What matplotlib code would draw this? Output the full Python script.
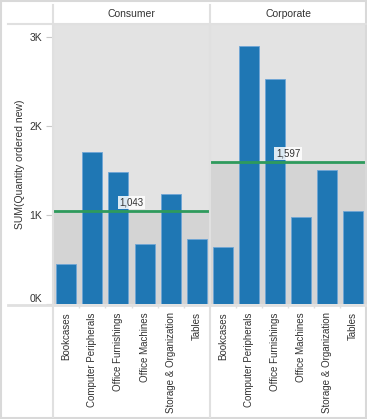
import matplotlib
matplotlib.use("Agg")
import matplotlib.pyplot as plt
from matplotlib.lines import Line2D
from matplotlib.patches import Rectangle

plt.rcParams['font.family'] = ['Liberation Sans', 'DejaVu Sans']

segments = ["Consumer", "Corporate"]
categories = ["Bookcases", "Computer Peripherals", "Office Furnishings",
              "Office Machines", "Storage & Organization", "Tables"]
consumer_qty = [446, 1711, 1487, 671, 1236, 727]
corporate_qty = [637, 2899, 2532, 974, 1506, 1048]
avg_labels = ["1,043", "1,597"]
y_ticks = [0, 1000, 2000, 3000]
y_ticklabels = ["0K", "1K", "2K", "3K"]

W, H = 367, 419
bar_col = "#1f77b4"
line_col = "#2e9a5c"
text_col = "#333333"
grid_col = "#e0e0e0"

fig = plt.figure(figsize=(W / 100, H / 100), dpi=100)
fig.patch.set_facecolor("white")


def fx(px):
    return px / W


def fy(py):
    return 1 - py / H


# frame lines
def hline(y, x0, x1, lw=1.5, c=grid_col):
    fig.add_artist(Line2D([fx(x0), fx(x1)], [fy(y), fy(y)], color=c, lw=lw,
                          transform=fig.transFigure))


def vline(x, y0, y1, lw=1.5, c=grid_col):
    fig.add_artist(Line2D([fx(x), fx(x)], [fy(y0), fy(y1)], color=c, lw=lw,
                          transform=fig.transFigure))


fig.add_artist(Rectangle((0.002, 0.002), 0.996, 0.996, fill=False, ec="#d9d9d9",
                         lw=1.5, transform=fig.transFigure))

top, bottom = 24, 304
ymax = (bottom - top) / 89 * 1000
panels = [(53, 210), (210, 366)]
data = [consumer_qty, corporate_qty]

for i, (x0, x1) in enumerate(panels):
    ax = fig.add_axes([fx(x0), fy(bottom), fx(x1 - x0), (bottom - top) / H])
    vals = data[i]
    avg = sum(vals) / len(vals)
    ax.set_facecolor("#e3e3e3")
    ax.axhspan(0, avg, color="#d4d4d4", zorder=0)
    xs = range(len(categories))
    ax.bar(xs, vals, width=0.76, color=bar_col, edgecolor="#6fa6d6", lw=0.6, zorder=2)
    ax.axhline(avg, color=line_col, lw=2.0, zorder=3)
    ax.text(2.5, avg + 40, avg_labels[i], ha="center", va="bottom", fontsize=7,
            color=text_col, zorder=4,
            bbox=dict(boxstyle="square,pad=0.15", fc="white", ec="none", alpha=0.85))
    ax.set_xlim(-0.5, len(categories) - 0.5)
    ax.set_ylim(0, ymax)
    for s in ax.spines.values():
        s.set_visible(False)
    ax.set_xticks(list(xs))
    ax.set_xticklabels(categories, rotation=90, fontsize=7, color=text_col, va="top")
    ax.tick_params(axis="x", length=0, pad=6)
    ax.set_xticks([k + 0.5 for k in range(len(categories) - 1)], minor=True)
    ax.tick_params(axis="x", which="minor", length=3, color=grid_col, width=1)
    if i == 0:
        ax.set_yticks(y_ticks)
        ax.set_yticklabels(y_ticklabels, fontsize=7.5, color=text_col)
        ax.tick_params(axis="y", length=5, color="#c8c8c8", pad=3)
        ax.get_yticklabels()[0].set_va("bottom")
    else:
        ax.set_yticks([])
    fig.text(fx((x0 + x1) / 2), fy(14), segments[i], ha="center", va="center",
             fontsize=7.5, color=text_col)

hline(top, 8, 366)
hline(bottom + 1, 8, 366, lw=2)
vline(53, 5, 417)
vline(210, 5, 417)

fig.text(fx(20), fy(164), "SUM(Quantity ordered new)", rotation=90, ha="center",
         va="center", fontsize=7.5, color=text_col)

fig.savefig("out.png", dpi=100)
